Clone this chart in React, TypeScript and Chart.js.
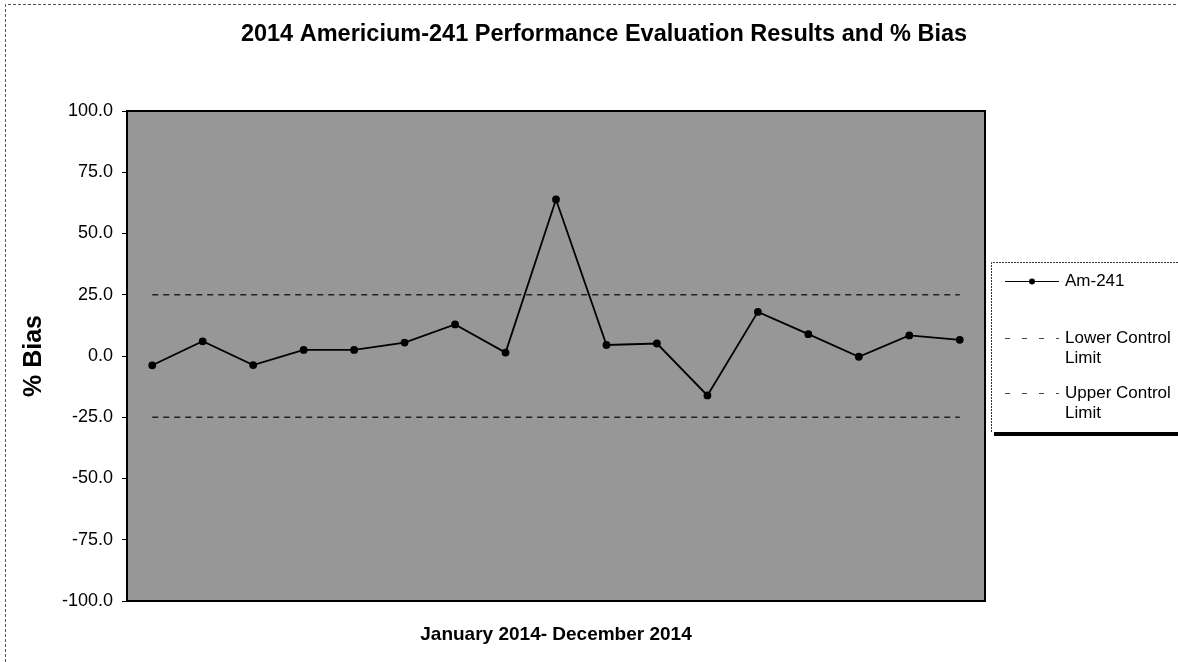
import React, { useEffect, useRef } from "react";
import { Chart, registerables } from "chart.js";

Chart.register(...registerables);

const chartTitle = "2014 Americium-241 Performance Evaluation Results and % Bias";
const xAxisTitle = "January 2014- December 2014";
const yAxisTitle = "% Bias";

const categories = ["1", "2", "3", "4", "5", "6", "7", "8", "9", "10", "11", "12", "13", "14", "15", "16", "17"];
const am241Bias = [-3.8, 6.0, -3.7, 2.5, 2.5, 5.5, 12.9, 1.4, 63.9, 4.5, 5.1, -16.1, 18.0, 8.9, -0.3, 8.4, 6.6];
const lowerControlLimit = [-25, -25, -25, -25, -25, -25, -25, -25, -25, -25, -25, -25, -25, -25, -25, -25, -25];
const upperControlLimit = [25, 25, 25, 25, 25, 25, 25, 25, 25, 25, 25, 25, 25, 25, 25, 25, 25];
const legendLabels = [["Am-241"], ["Lower Control", "Limit"], ["Upper Control", "Limit"]];
const yMin = -100;
const yMax = 100;
const yStep = 25;

const FONT = "'Liberation Sans', Arial, Helvetica, sans-serif";

const decorPlugin = {
  id: "decor",
  beforeDatasetsDraw(chart: any) {
    const { ctx, chartArea } = chart;
    ctx.save();
    ctx.fillStyle = "#979797";
    ctx.fillRect(chartArea.left, chartArea.top, chartArea.right - chartArea.left, chartArea.bottom - chartArea.top);
    ctx.restore();
  },
  afterDraw(chart: any) {
    const { ctx, chartArea, width, height } = chart;
    ctx.save();
    // plot frame
    ctx.strokeStyle = "#000";
    ctx.lineWidth = 2;
    ctx.strokeRect(chartArea.left, chartArea.top, chartArea.right - chartArea.left, chartArea.bottom - chartArea.top);

    // outer dashed border
    ctx.lineWidth = 1;
    ctx.strokeStyle = "#555";
    ctx.setLineDash([3, 2]);
    ctx.beginPath();
    ctx.moveTo(5.5, height);
    ctx.lineTo(5.5, 4.5);
    ctx.lineTo(width, 4.5);
    ctx.stroke();
    ctx.setLineDash([]);

    // title
    ctx.fillStyle = "#000";
    ctx.font = `bold 23.5px ${FONT}`;
    ctx.textAlign = "center";
    ctx.textBaseline = "middle";
    ctx.fillText(chartTitle, 604, 35);

    // legend box
    const bx = 991, by = 262, bh = 170;
    ctx.fillStyle = "#000";
    ctx.fillRect(bx + 3, by + bh, width - bx, 4);
    ctx.fillStyle = "#fff";
    ctx.fillRect(bx, by, width - bx, bh);
    ctx.strokeStyle = "#333";
    ctx.lineWidth = 1;
    ctx.setLineDash([2, 1]);
    ctx.beginPath();
    ctx.moveTo(width, by + 0.5);
    ctx.lineTo(bx + 0.5, by + 0.5);
    ctx.lineTo(bx + 0.5, by + bh);
    ctx.stroke();
    ctx.setLineDash([]);

    const rowsY = [281, 338, 393];
    const x1 = 1005, x2 = 1059, tx = 1065;
    ctx.font = `17px ${FONT}`;
    ctx.textAlign = "left";
    ctx.textBaseline = "middle";
    legendLabels.forEach((lines, i) => {
      const y = rowsY[i];
      ctx.beginPath();
      if (i === 0) {
        ctx.strokeStyle = "#000";
        ctx.lineWidth = 1;
        ctx.moveTo(x1, y + 0.5);
        ctx.lineTo(x2, y + 0.5);
        ctx.stroke();
        ctx.fillStyle = "#000";
        ctx.beginPath();
        ctx.arc((x1 + x2) / 2, y + 0.5, 3, 0, Math.PI * 2);
        ctx.fill();
      } else {
        ctx.strokeStyle = "#444";
        ctx.lineWidth = 1;
        ctx.setLineDash([5, 12]);
        ctx.moveTo(x1, y + 0.5);
        ctx.lineTo(x2, y + 0.5);
        ctx.stroke();
        ctx.setLineDash([]);
      }
      ctx.fillStyle = "#000";
      lines.forEach((t, j) => ctx.fillText(t, tx, y + j * 20));
    });
    ctx.restore();
  },
};

export default function App() {
  const ref = useRef<HTMLCanvasElement | null>(null);
  useEffect(() => {
    if (!ref.current) return;
    const chart = new Chart(ref.current, {
      type: "line",
      data: {
        labels: categories,
        datasets: [
          {
            label: "Am-241",
            data: am241Bias,
            borderColor: "#000",
            backgroundColor: "#000",
            borderWidth: 1.8,
            pointRadius: 3,
            pointBackgroundColor: "#000",
            pointBorderColor: "#000",
            tension: 0,
          },
          {
            label: "Lower Control Limit",
            data: lowerControlLimit,
            borderColor: "#222",
            borderWidth: 1.5,
            borderDash: [6, 5],
            pointRadius: 0,
          },
          {
            label: "Upper Control Limit",
            data: upperControlLimit,
            borderColor: "#222",
            borderWidth: 1.5,
            borderDash: [6, 5],
            pointRadius: 0,
          },
        ],
      },
      options: {
        responsive: false,
        animation: false,
        layout: { padding: { top: 111, right: 193, bottom: 0, left: 0 } },
        plugins: {
          legend: { display: false },
          title: { display: false },
          tooltip: { enabled: false },
        },
        scales: {
          x: {
            type: "category",
            offset: true,
            grid: { display: false },
            border: { display: false },
            ticks: { display: false },
            title: {
              display: true,
              text: xAxisTitle,
              color: "#000",
              font: { family: FONT, size: 19, weight: "bold" },
              padding: { top: 0, bottom: 16 },
            },
            afterFit(scale: any) {
              scale.height = 61;
            },
          },
          y: {
            min: yMin,
            max: yMax,
            grid: { drawOnChartArea: false, drawTicks: true, tickLength: 5, color: "#000", tickColor: "#000" },
            border: { display: false },
            ticks: {
              stepSize: yStep,
              color: "#000",
              padding: 9,
              font: { family: FONT, size: 18 },
              callback: (v: any) => Number(v).toFixed(1),
            },
            title: {
              display: true,
              text: yAxisTitle,
              color: "#000",
              font: { family: FONT, size: 25, weight: "bold" },
              padding: { top: 19, bottom: 0 },
            },
            afterFit(scale: any) {
              scale.width = 127;
            },
          },
        },
      },
      plugins: [decorPlugin],
    });
    return () => chart.destroy();
  }, []);
  return (
    <div style={{ position: "fixed", left: 0, top: 0, width: 1178, height: 662, background: "#fff" }}>
      <canvas ref={ref} width={1178} height={662} style={{ width: 1178, height: 662, display: "block" }} />
    </div>
  );
}
